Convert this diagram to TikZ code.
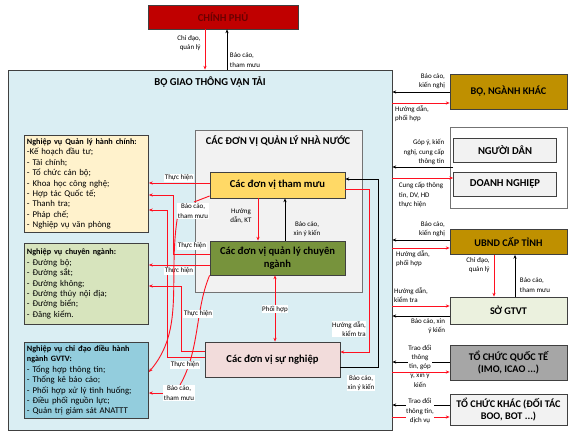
\documentclass[tikz,border=0pt]{standalone}
\usepackage{fontspec}
\setmainfont{Carlito}
\usetikzlibrary{arrows.meta}

\definecolor{cpRed}{HTML}{C00000}
\definecolor{cpText}{HTML}{6A0000}
\definecolor{bgBlue}{HTML}{DAEEF3}
\definecolor{qlnnGray}{HTML}{F2F2F2}
\definecolor{tmGold}{HTML}{FFD966}
\definecolor{qlcnGreen}{HTML}{77933C}
\definecolor{snPink}{HTML}{F2DCDB}
\definecolor{admCream}{HTML}{FFF2CC}
\definecolor{grnBox}{HTML}{D7E4BD}
\definecolor{dhBlue}{HTML}{93CDDD}
\definecolor{goldBox}{HTML}{BF9000}
\definecolor{soGreen}{HTML}{EBF1DE}
\definecolor{qtGray}{HTML}{A6A6A6}
\definecolor{lightBox}{HTML}{F2F2F2}
\definecolor{arrowRed}{HTML}{FF1020}
\definecolor{edgeGray}{HTML}{404040}

\newcommand{\listHead}[1]{{\bfseries\fontsize{8.2}{10.4}\selectfont #1}}

\begin{document}
\begin{tikzpicture}
[x=1pt,y=-1pt,
  boxDecorate/.style={draw=edgeGray,line width=0.8pt,align=center,inner sep=1pt,font=\bfseries\fontsize{10.6}{12.5}\selectfont},%
  listDecorate/.style={draw=edgeGray,line width=0.9pt,align=left,anchor=north west,inner sep=2.5pt,text width=119pt,font=\fontsize{8.8}{10.4}\selectfont},%
  noteDecorate/.style={fill=white,inner sep=0.6pt,font=\fontsize{7}{9.3}\selectfont,align=center},%
  redLine/.style={draw=arrowRed,line width=0.9pt},%
  redDecorate/.style={redLine,-{Stealth[length=3.8pt,width=3.2pt]}},%
  blackDecorate/.style={-{Stealth[length=3.8pt,width=3.2pt]},draw=black,line width=0.7pt}]
\useasboundingbox (0,0) rectangle (575,438);

%% top and the ministry
\node (cp) at (223,17) [boxDecorate,fill=cpRed,text=cpText,minimum width=150pt,minimum height=24pt] {CHÍNH PHỦ};
\node (bgtvt) at (200,250) [draw=edgeGray,line width=0.8pt,fill=bgBlue,minimum width=384pt,minimum height=360pt] {};
\node (bgtvtTitle) at (210,82) [font=\bfseries\fontsize{10.6}{12}\selectfont] {BỘ GIAO THÔNG VẬN TẢI};

%% state management units
\node (qlnn) at (278.5,211) [draw=black!55,line width=0.8pt,fill=qlnnGray,minimum width=167pt,minimum height=162pt] {};
\node (qlnnTitle) at (278,141) [font=\bfseries\fontsize{10.4}{12}\selectfont] {CÁC ĐƠN VỊ QUẢN LÝ NHÀ NƯỚC};
\node (tm) at (277.5,185) [boxDecorate,fill=tmGold,minimum width=135pt,minimum height=26pt] {Các đơn vị tham mưu};
\node (qlcn) at (277.5,258) [boxDecorate,fill=qlcnGreen,minimum width=135pt,minimum height=34pt] {Các đơn vị quản lý chuyên\\ngành};
\node (sn) at (272.5,359.5) [boxDecorate,fill=snPink,minimum width=135pt,minimum height=35pt] {Các đơn vị sự nghiệp};

%% task lists on the left
\node (adm) at (24,135) [listDecorate,fill=admCream,minimum height=97pt] {\listHead{Nghiệp vụ Quản lý hành chính:}\\-Kế hoạch đầu tư;\\- Tài chính;\\- Tổ chức cán bộ;\\- Khoa học công nghệ;\\- Hợp tác Quốc tế;\\- Thanh tra;\\- Pháp chế;\\- Nghiệp vụ văn phòng};
\node (grn) at (24,243) [listDecorate,fill=grnBox,minimum height=81pt] {\listHead{Nghiệp vụ chuyên ngành:}\\- Đường bộ;\\- Đường sắt;\\- Đường không;\\- Đường thủy nội địa;\\- Đường biển;\\- Đăng kiểm.};
\node (dh) at (24,342) [listDecorate,fill=dhBlue,minimum height=76pt] {\listHead{Nghiệp vụ chỉ đạo điều hành}\\\listHead{ngành GVTV:}\\- Tổng hợp thông tin;\\- Thống kê báo cáo;\\- Phối hợp xử lý tình huống;\\- Điều phối nguồn lực;\\- Quản trị giám sát ANATTT};

%% partners on the right
\node (ndBox) at (508.5,167.5) [draw=black!55,line width=0.8pt,fill=white,minimum width=117pt,minimum height=81pt] {};
\node (nd) at (505,150) [boxDecorate,fill=lightBox,minimum width=103pt,minimum height=24pt] {NGƯỜI DÂN};
\node (dn) at (505,184) [boxDecorate,fill=lightBox,minimum width=103pt,minimum height=24pt] {DOANH NGHIỆP};
\foreach \nodename/\y/\h/\col/\txt in {bnk/91.5/35/goldBox/{BỘ, NGÀNH KHÁC}, ubnd/242/25/goldBox/{UBND CẤP TỈNH}, so/310.5/27/soGreen/{SỞ GTVT}, qt/362.5/35/qtGray/{TỔ CHỨC QUỐC TẾ\\(IMO, ICAO ...)}, khac/410/31/lightBox/{TỔ CHỨC KHÁC (ĐỐI TÁC\\BOO, BOT ...)}}
{
  \node (\nodename) at (508.5,\y) [boxDecorate,fill=\col,minimum width=117pt,minimum height=\h pt,font=\bfseries\fontsize{10.2}{12}\selectfont] {\txt};
}

%% government links
\draw[redDecorate] (205,0 |- cp.south) -- (205,0 |- bgtvt.north);
\draw[blackDecorate] (227,0 |- bgtvt.north) -- (227,0 |- cp.south);
\node (cpDown) at (189,43) [noteDecorate,align=right] {Chỉ đạo,\\quản lý};
\node (cpUp) at (245,60) [noteDecorate,align=left] {Báo cáo,\\tham mưu};

%% inside the state units
\draw[redDecorate] (258,0 |- tm.south) -- (258,0 |- qlcn.north);
\draw[blackDecorate] (285,0 |- qlcn.north) -- (285,0 |- tm.south);
\node (hdKt) at (241,216) [noteDecorate,fill=qlnnGray] {Hướng\\dẫn, KT};
\node (bcXyk) at (307,229) [noteDecorate,fill=qlnnGray] {Báo cáo,\\xin ý kiến};
\draw[redLine,{Stealth[length=3.8pt,width=3.2pt]}-{Stealth[length=3.8pt,width=3.2pt]}] (275,0 |- qlcn.south) -- (275,0 |- sn.north);
\node (phoiHop) at (275,309) [noteDecorate] {Phối hợp};
\draw[redDecorate] (tm.east |- 0,189) -| (369,352) -- (sn.east |- 0,352);
\draw[blackDecorate] (sn.east |- 0,367) -| (378,179) -- (tm.east |- 0,179);
\node (hdKtra) at (349,329) [noteDecorate,align=right] {Hướng dẫn,\\kiểm tra};
\node (bcSn) at (361,383) [noteDecorate] {Báo cáo,\\xin ý kiến};

%% carrying out the tasks
\draw[redDecorate] (tm.west |- 0,183) -- (adm.east |- 0,183);
\draw[redDecorate] (qlcn.west |- 0,254) -| (173,195) -- (adm.east |- 0,195);
\draw[redDecorate] (qlcn.west |- 0,265) -- (grn.east |- 0,265);
\draw[redDecorate] (sn.west |- 0,351) -| (181,286) -- (grn.east |- 0,286);
\draw[redDecorate] (sn.west |- 0,357) -| (167,210) -- (adm.east |- 0,210);
\draw[redLine] (tm.west |- 0,196) -- (194,202);
\draw[redLine] (qlcn.south west) .. controls (195,310) and (200,350) .. (180,385);
\node (th1) at (179,178) [noteDecorate] {Thực hiện};
\node (th2) at (192,246) [noteDecorate] {Thực hiện};
\node (th3) at (179,271) [noteDecorate] {Thực hiện};
\node (th4) at (198,314) [noteDecorate] {Thực hiện};
\node (th5) at (185,365) [noteDecorate] {Thực hiện};
\node (bcTm) at (193,211) [noteDecorate] {Báo cáo,\\tham mưu};
\node (bcQl) at (179,393) [noteDecorate] {Báo cáo,\\tham mưu};
\draw[redDecorate] (bcTm.south west) .. controls (168,280) and (185,330) .. (dh.east |- 0,372);
\draw[redDecorate] (bcQl.west) -- (dh.east |- bcQl.west);

%% links with the partners
\foreach \partner/\yin/\yout in {bnk/92/103, nd/167/178, ubnd/240/248, qt/362/372, khac/405/417}
{
  \draw[blackDecorate] (\partner.west |- 0,\yin) -- (bgtvt.east |- 0,\yin);
  \draw[redDecorate] (bgtvt.east |- 0,\yout) -- (\partner.west |- 0,\yout);
}
\draw[blackDecorate] (so.west |- 0,316) -- (bgtvt.east |- 0,316);
\draw[redDecorate] (bgtvt.east |- 0,306) -- (so.west |- 0,306);
\draw[redDecorate] (494,0 |- ubnd.south) -- (494,0 |- so.north);
\draw[blackDecorate] (515,0 |- so.north) -- (515,0 |- ubnd.south);
\node (bnkUp) at (432,81) [noteDecorate,align=right] {Báo cáo,\\kiến nghị};
\node (bnkDown) at (412,114) [noteDecorate,align=left] {Hướng dẫn,\\phối hợp};
\node (ndUp) at (424,152) [noteDecorate,align=right] {Góp ý, kiến\\nghị, cung cấp\\thông tin};
\node (ndDown) at (421,195) [noteDecorate,align=left] {Cung cấp thông\\tin, DV, HD\\thực hiện};
\node (ubndUp) at (432,229) [noteDecorate,align=right] {Báo cáo,\\kiến nghị};
\node (ubndDown) at (413,259) [noteDecorate,align=left] {Hướng dẫn,\\phối hợp};
\node (soDown) at (478,265) [noteDecorate,align=right] {Chỉ đạo,\\quản lý};
\node (soUp) at (535,285) [noteDecorate,align=left] {Báo cáo,\\tham mưu};
\node (soIn) at (411,295) [noteDecorate,align=left] {Hướng dẫn,\\kiểm tra};
\node (soOut) at (428,326) [noteDecorate,align=right] {Báo cáo, xin\\ý kiến};
\node (qtNote) at (420,366) [noteDecorate] {Trao đổi\\thông\\tin, góp\\ý, xin ý\\kiến};
\node (khacNote) at (420,411) [noteDecorate] {Trao đổi\\thông tin,\\dịch vụ};
\draw[redLine] (qtNote.west |- 0,372) -- (qtNote.east |- 0,372);
\end{tikzpicture}
\end{document}
